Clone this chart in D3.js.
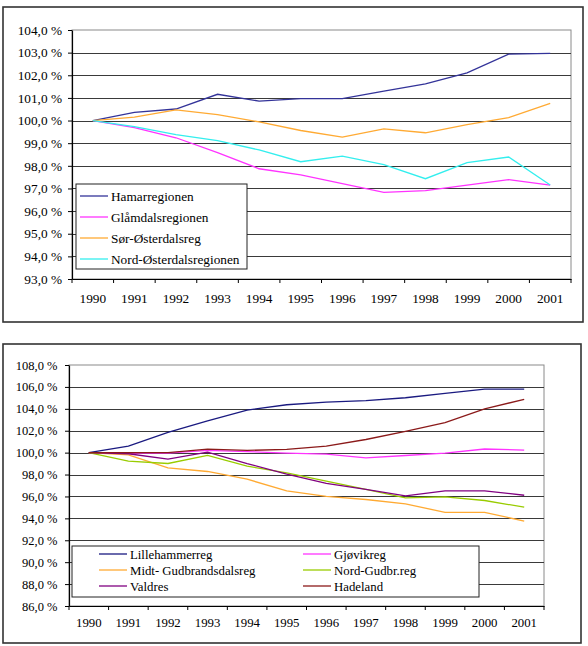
<!DOCTYPE html>
<html><head><meta charset="utf-8">
<script src="https://cdn.jsdelivr.net/npm/d3@7"></script>
<style>
body{margin:0;background:#fff;}
svg{display:block;}
</style></head>
<body>
<svg id="c" width="588" height="646"></svg>
<script>
const years = ["1990","1991","1992","1993","1994","1995","1996","1997","1998","1999","2000","2001"];

// Chart 1 series
const hamar   = [100,100.36,100.51,101.16,100.86,100.97,100.97,101.30,101.62,102.11,102.93,102.97];
const glamdal = [100,99.69,99.24,98.58,97.87,97.60,97.21,96.83,96.90,97.15,97.39,97.15];
const sorOst  = [100,100.15,100.47,100.26,99.94,99.56,99.27,99.63,99.46,99.82,100.13,100.76];
const nordOst = [100,99.73,99.38,99.11,98.70,98.18,98.43,98.05,97.43,98.14,98.39,97.15];
const ticks1  = [93,94,95,96,97,98,99,100,101,102,103,104];

// Chart 2 series
const lillehammer = [100,100.6,101.85,102.91,103.89,104.37,104.62,104.74,105.01,105.41,105.8,105.8];
const gjovik      = [100,99.95,99.95,100.2,100.1,99.95,99.86,99.53,99.74,99.96,100.33,100.23];
const midtGud     = [100,99.8,98.6,98.28,97.58,96.5,96.0,95.72,95.32,94.55,94.55,93.75];
const nordGud     = [100,99.22,99.01,99.74,98.77,98.15,97.4,96.64,95.87,95.96,95.63,95.02];
const valdres     = [100,99.9,99.4,100.05,99.0,98.04,97.19,96.64,96.05,96.51,96.51,96.11];
const hadeland    = [100,100.0,100.0,100.32,100.2,100.3,100.6,101.2,101.94,102.73,104.0,104.86];
const ticks2      = [86,88,90,92,94,96,98,100,102,104,106,108];

const svg = d3.select("#c");
const fmt = v => d3.format(".1f")(v).replace(".", ",") + " %";
const SERIF = '"Liberation Serif","Times New Roman",serif';

function drawChart(cfg){
  const g = svg.append("g");
  g.append("rect").attr("x",cfg.frame[0]).attr("y",cfg.frame[1])
    .attr("width",cfg.frame[2]).attr("height",cfg.frame[3])
    .attr("fill","#fff").attr("stroke","#333").attr("stroke-width",1.6);
  const x = d3.scaleBand().domain(years).range([cfg.left,cfg.right]);
  const y = d3.scaleLinear().domain(cfg.domain).range([cfg.bottom,cfg.top]);
  // plot border
  g.append("rect").attr("x",cfg.left).attr("y",cfg.top)
    .attr("width",cfg.right-cfg.left).attr("height",cfg.bottom-cfg.top)
    .attr("fill","none").attr("stroke","#8a8a8a").attr("stroke-width",1);
  // gridlines
  g.append("g").selectAll("line").data(cfg.ticks.slice(1,-1)).join("line")
    .attr("x1",cfg.left).attr("x2",cfg.right)
    .attr("y1",d=>Math.round(y(d))+0.5).attr("y2",d=>Math.round(y(d))+0.5)
    .attr("stroke","#3a3a3a").attr("stroke-width",1);
  // y axis
  const ya = g.append("g").attr("transform",`translate(${cfg.left},0)`)
    .call(d3.axisLeft(y).tickValues(cfg.ticks).tickFormat(fmt).tickSize(4).tickSizeOuter(0));
  ya.select(".domain").attr("stroke","#000").attr("stroke-width",1.2);
  ya.selectAll(".tick line").attr("stroke","#000");
  ya.selectAll("text").style("font-family",SERIF).style("font-size",cfg.fsY+"px")
    .attr("x",cfg.yLabX).attr("fill","#000");
  // x axis
  const xa = g.append("g").attr("transform",`translate(0,${cfg.bottom})`)
    .call(d3.axisBottom(x).tickSize(0).tickSizeOuter(0));
  xa.select(".domain").attr("stroke","#000").attr("stroke-width",1.2);
  xa.selectAll("text").style("font-family",SERIF).style("font-size",cfg.fsX+"px")
    .attr("dy",0).attr("y",cfg.labelDy).attr("fill","#000");
  // x tick marks at band boundaries
  g.append("g").selectAll("line").data(d3.range(years.length+1)).join("line")
    .attr("x1",i=>cfg.left+i*x.step()).attr("x2",i=>cfg.left+i*x.step())
    .attr("y1",cfg.bottom).attr("y2",cfg.bottom+4).attr("stroke","#000");
  // lines
  const line = d3.line().x((d,i)=>x(years[i])+x.bandwidth()/2).y(d=>y(d));
  cfg.series.forEach(s=>{
    g.append("path").datum(s.values).attr("d",line)
      .attr("fill","none").attr("stroke",s.color).attr("stroke-width",1.3);
  });
  // legend
  const L = cfg.legend;
  const lg = g.append("g");
  lg.append("rect").attr("x",L.x).attr("y",L.y).attr("width",L.w).attr("height",L.h)
    .attr("fill","#fff").attr("stroke","#222").attr("stroke-width",1);
  cfg.series.forEach((s,i)=>{
    const col = i % L.cols, row = Math.floor(i / L.cols);
    const lx = L.x + L.lineX + col*L.colW, ly = L.y + L.rowY + row*L.rowH;
    lg.append("line").attr("x1",lx).attr("x2",lx+L.lineLen).attr("y1",ly).attr("y2",ly)
      .attr("stroke",s.color).attr("stroke-width",1.3);
    lg.append("text").attr("x",lx+L.lineLen+3).attr("y",ly+4.5)
      .style("font-family",SERIF).style("font-size",L.fs+"px").text(s.name);
  });
}

drawChart({
  frame:[3,7,580,315], left:72, right:571, top:30, bottom:279, domain:[93,104], ticks:ticks1,
  labelDy:23.5, fsX:13.3, fsY:13.3, yLabX:-10,
  series:[
    {name:"Hamarregionen", values:hamar, color:"#333399"},
    {name:"Glåmdalsregionen", values:glamdal, color:"#ff33ff"},
    {name:"Sør-Østerdalsreg", values:sorOst, color:"#ffaa33"},
    {name:"Nord-Østerdalsregionen", values:nordOst, color:"#33eeee"}
  ],
  legend:{x:76, y:184, w:171, h:85, cols:1, colW:0, lineX:4, rowY:12, rowH:21, lineLen:28, fs:13.3}
});

drawChart({
  frame:[3,344,578,299], left:69, right:544, top:365, bottom:606, domain:[86,108], ticks:ticks2,
  labelDy:21, fsX:12.8, fsY:12.5, yLabX:-11.5,
  series:[
    {name:"Lillehammerreg", values:lillehammer, color:"#1a1a80"},
    {name:"Gjøvikreg", values:gjovik, color:"#ff33ff"},
    {name:"Midt- Gudbrandsdalsreg", values:midtGud, color:"#ffaa33"},
    {name:"Nord-Gudbr.reg", values:nordGud, color:"#99cc00"},
    {name:"Valdres", values:valdres, color:"#800080"},
    {name:"Hadeland", values:hadeland, color:"#8b1a1a"}
  ],
  legend:{x:72, y:546, w:407, h:51, cols:2, colW:204, lineX:27, rowY:8, rowH:16, lineLen:28, fs:12.8}
});
</script>
</body></html>
